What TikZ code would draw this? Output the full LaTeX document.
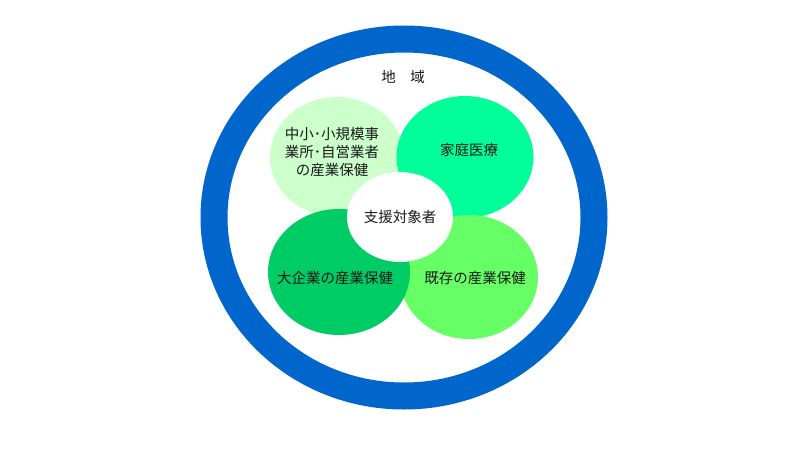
\documentclass[tikz,border=0pt]{standalone}
\usepackage{fontspec}
\newfontfamily\jpfont{Noto Sans CJK JP}
\usetikzlibrary{shapes.geometric}
\definecolor{ringblue}{HTML}{0066CC}
\definecolor{cTL}{HTML}{CCFFCC}
\definecolor{cTR}{HTML}{00FF99}
\definecolor{cBR}{HTML}{66FF66}
\definecolor{cBL}{HTML}{00CC66}
\begin{document}
\begin{tikzpicture}[x=1pt,y=-1pt,
  blob/.style={ellipse,draw=none,inner sep=0pt,outer sep=0pt},
  lbl/.style={inner sep=0pt,align=center,text=black!90,
    font=\jpfont\fontsize{14.5}{18}\selectfont}]
\useasboundingbox (0,0) rectangle (800,450);
\fill[white] (0,0) rectangle (800,450);
% region ring
\node[ellipse,draw=ringblue,line width=27pt,inner sep=0pt,
  minimum width=380pt,minimum height=357pt] (region) at (404,217.5) {};
% four fields
\node[blob,fill=cTL,minimum width=134pt,minimum height=120pt] (tl) at (337,157) {};
\node[blob,fill=cTR,minimum width=137pt,minimum height=122pt] (tr) at (465,157) {};
\node[blob,fill=cBR,minimum width=138pt,minimum height=124pt] (br) at (469,277) {};
\node[blob,fill=cBL,minimum width=142pt,minimum height=126pt] (bl) at (339,272) {};
\node[blob,fill=white,minimum width=106pt,minimum height=90pt] (center) at (400,217) {};
% labels
\node[lbl] (regionlbl) at (403,77) {地　域};
\node[lbl] (tllbl) at (332,152) {中小･小規模事\\業所･自営業者\\の産業保健};
\node[lbl] (trlbl) at (469,150) {家庭医療};
\node[lbl] (centerlbl) at (400,217) {支援対象者};
\node[lbl] (bllbl) at (335,278) {大企業の産業保健};
\node[lbl] (brlbl) at (475,278) {既存の産業保健};
\end{tikzpicture}
\end{document}
